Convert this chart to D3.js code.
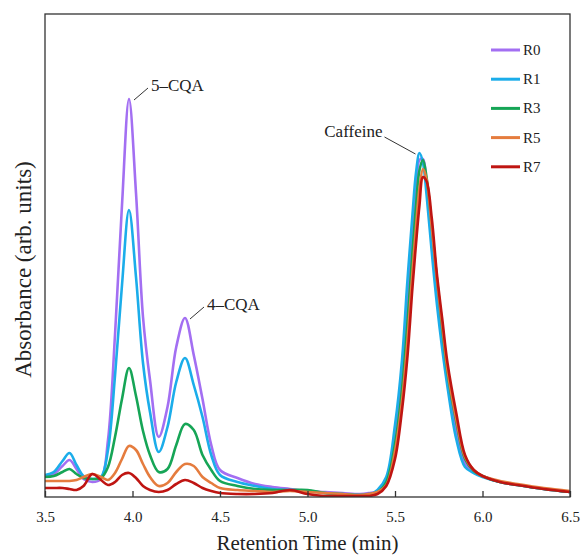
<!DOCTYPE html>
<html>
<head>
<meta charset="utf-8">
<title>Chromatogram</title>
<script src="https://d3js.org/d3.v7.min.js"></script>
<style>
  body { margin: 0; background: #fff; }
  text { font-family: "Liberation Serif", "Times New Roman", serif; fill: #222; }
</style>
</head>
<body>
<script>
// retention time (min)
var times = [3.50,3.55,3.60,3.64,3.68,3.72,3.77,3.82,3.86,3.90,
             3.94,3.98,4.02,4.06,4.10,4.15,4.20,4.25,4.30,4.35,
             4.40,4.45,4.50,4.60,4.70,4.80,4.90,5.00,5.10,5.20,
             5.30,5.35,5.40,5.45,5.50,5.54,5.57,5.60,5.62,5.64,
             5.66,5.68,5.71,5.74,5.77,5.80,5.85,5.90,5.95,6.00,
             6.10,6.20,6.35,6.50];

// absorbance (arb. units), one array per sample
var R0 = [21,23,31,37,28,18,15,18,57,162, 292,398,304,180,117,60,90,150,179,142,
          98,52,27,19,13,10,8,6,5,4, 3,4,6,17,61,119,189,261,303,337,
          338,313,260,207,159,117,68,34,25,21, 15,12,8,5];
var R1 = [22,25,36,44,32,21,18,20,47,121, 212,287,220,134,85,45,70,115,139,112,
          80,42,22,15,11,8,7,6,4,3, 2,2,7,20,72,137,214,283,324,344,
          334,303,245,192,148,110,58,30,24,20, 15,12,8,5];
var R3 = [20,21,25,28,23,19,18,19,30,60, 98,129,101,66,42,25,28,52,73,67,
          42,27,16,11,8,7,7,7,4,3, 2,3,5,15,53,108,172,246,291,327,
          337,320,271,217,168,124,75,38,26,21, 15,12,8,5];
var R5 = [16,16,16,16,17,20,23,20,17,24, 38,51,47,33,20,11,14,25,33,31,
          20,14,9,7,6,5,6,5,4,3, 2,3,5,12,46,96,154,226,270,309,
          328,318,270,217,172,127,78,40,27,21, 16,13,9,6];
var R7 = [9,9,9,8,7,11,23,17,12,15, 22,24,19,11,7,5,7,13,17,14,
          9,6,4,3,3,4,7,3,1,1, 1,1,3,11,38,87,138,210,253,292,
          320,316,279,222,178,134,84,42,27,21, 15,12,8,5];

var seriesNames = ["R0", "R1", "R3", "R5", "R7"];
var seriesValues = [R0, R1, R3, R5, R7];
var colors = ["#a36ff2", "#1badea", "#16a556", "#e57c3e", "#bf1512"];

var xTicks = [3.5, 4.0, 4.5, 5.0, 5.5, 6.0, 6.5];

// peak labels: which series / time the leader points at
var peakLabels = [
  {text: "5\u2013CQA", series: 0, time: 3.98, side: "right"},
  {text: "4\u2013CQA", series: 0, time: 4.30, side: "right"},
  {text: "Caffeine", series: 1, time: 5.64, side: "left"}
];

var W = 582, H = 557;
var margin = {top: 14, right: 12, bottom: 60, left: 45};

var svg = d3.select("body").append("svg")
  .attr("width", W)
  .attr("height", H);

var x = d3.scaleLinear().domain([3.5, 6.5]).range([margin.left, W - margin.right]);
var y = d3.scaleLinear().domain([0, 483]).range([H - margin.bottom, margin.top]);

var line = d3.line()
  .x(function(d) { return x(d[0]); })
  .y(function(d) { return y(d[1]); })
  .curve(d3.curveCatmullRom.alpha(0.5));

svg.append("clipPath").attr("id", "plotclip")
  .append("rect")
  .attr("x", x(3.5)).attr("y", y(483))
  .attr("width", x(6.5) - x(3.5)).attr("height", y(0) - y(483));

var curves = svg.append("g").attr("clip-path", "url(#plotclip)");
seriesValues.forEach(function(vals, i) {
  var pts = times.map(function(t, k) { return [t, vals[k]]; });
  curves.append("path")
    .datum(pts)
    .attr("d", line)
    .attr("fill", "none")
    .attr("stroke", colors[i])
    .attr("stroke-width", 2.6)
    .attr("stroke-linejoin", "round");
});

// frame
svg.append("rect")
  .attr("x", x(3.5)).attr("y", y(483))
  .attr("width", x(6.5) - x(3.5)).attr("height", y(0) - y(483))
  .attr("fill", "none").attr("stroke", "#333").attr("stroke-width", 1.3);

// x axis, ticks pointing inward
var xAxis = d3.axisBottom(x).tickValues(xTicks).tickSize(-6).tickPadding(14)
  .tickFormat(d3.format(".1f"));
var gx = svg.append("g").attr("transform", "translate(0," + y(0) + ")").call(xAxis);
gx.select(".domain").remove();
gx.selectAll(".tick line").attr("stroke", "#333").attr("stroke-width", 1.3);
gx.selectAll(".tick text")
  .attr("font-family", "Liberation Serif")
  .attr("font-size", 15)
  .attr("fill", "#222");

svg.append("text")
  .attr("x", (x(3.5) + x(6.5)) / 2)
  .attr("y", 550)
  .attr("text-anchor", "middle")
  .attr("font-size", 21)
  .text("Retention Time (min)");

svg.append("text")
  .attr("transform", "translate(31," + ((y(0) + y(483)) / 2 + 14) + ") rotate(-90)")
  .attr("text-anchor", "middle")
  .attr("font-size", 23)
  .text("Absorbance (arb. units)");

// peak annotations
peakLabels.forEach(function(p) {
  var k = times.indexOf(p.time);
  var px = x(p.time), py = y(seriesValues[p.series][k]);
  var x1, y1, x2, y2;
  if (p.side === "right") {
    x1 = px + 5; y1 = py + 1; x2 = px + 19; y2 = py - 11;
  } else {
    x1 = px - 4; y1 = py + 1; x2 = px - 35; y2 = py - 16;
  }
  svg.append("line")
    .attr("x1", x1).attr("y1", y1).attr("x2", x2).attr("y2", y2)
    .attr("stroke", "#333").attr("stroke-width", 1);
  svg.append("text")
    .attr("x", p.side === "right" ? x2 + 3 : x2 - 2)
    .attr("y", p.side === "right" ? y2 + 3 : y2 + 0)
    .attr("text-anchor", p.side === "right" ? "start" : "end")
    .attr("font-size", 17)
    .text(p.text);
});

// legend
var legend = svg.append("g").attr("transform", "translate(491,50)");
seriesNames.forEach(function(name, i) {
  var g = legend.append("g").attr("transform", "translate(0," + (i * 29.2) + ")");
  g.append("line")
    .attr("x1", 0).attr("x2", 29).attr("y1", 0).attr("y2", 0)
    .attr("stroke", colors[i]).attr("stroke-width", 3);
  g.append("text")
    .attr("x", 32).attr("y", 5)
    .attr("font-size", 15)
    .text(name);
});
</script>
</body>
</html>
